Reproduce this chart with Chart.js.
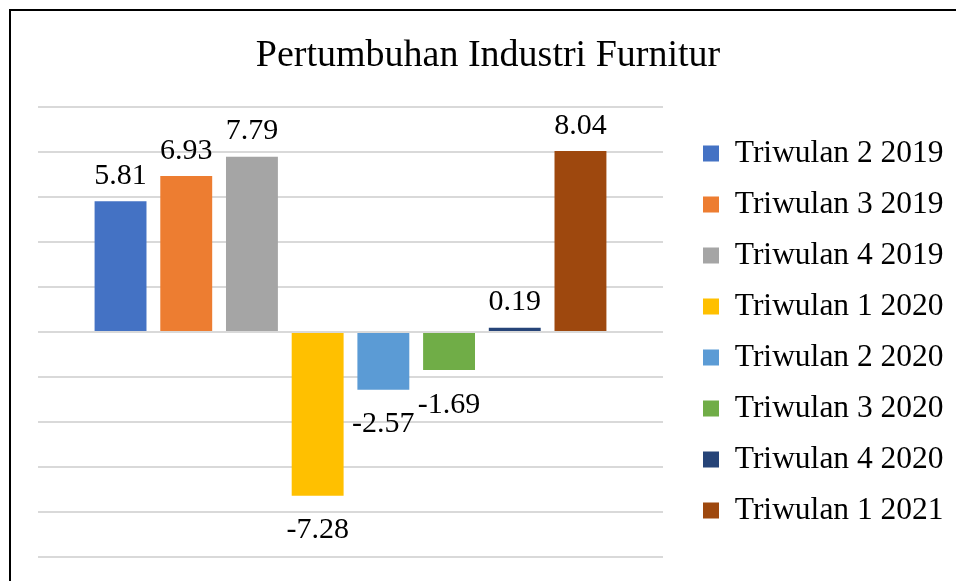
<!DOCTYPE html>
<html>
<head>
<meta charset="utf-8">
<script src="https://cdn.jsdelivr.net/npm/chart.js@4/dist/chart.umd.min.js"></script>
<style>
  html, body { margin: 0; padding: 0; background: #fff; overflow: hidden; width: 956px; height: 581px; }
  #frame { position: absolute; left: 9px; top: 9px; width: 1000px; height: 620px;
           border-left: 2.5px solid #000; border-top: 2.5px solid #000; box-sizing: border-box; }
  #wrap { position: absolute; left: 12px; top: 12px; width: 952px; height: 575px; }
</style>
</head>
<body>
<div id="frame"></div>
<div id="wrap"><canvas id="c" width="952" height="575"></canvas></div>
<script>
// ---- data ----
const chartTitle = 'Pertumbuhan Industri Furnitur';
const quarters = ['Triwulan 2 2019', 'Triwulan 3 2019', 'Triwulan 4 2019', 'Triwulan 1 2020',
                  'Triwulan 2 2020', 'Triwulan 3 2020', 'Triwulan 4 2020', 'Triwulan 1 2021'];
const growth = [5.81, 6.93, 7.79, -7.28, -2.57, -1.69, 0.19, 8.04];
const barColors = ['#4472C4', '#ED7D31', '#A5A5A5', '#FFC000', '#5B9BD5', '#70AD47', '#264478', '#9E480E'];
const yMin = -10, yMax = 10, yStep = 2;

const FONT = "'Liberation Serif', 'Times New Roman', serif";

const datasets = quarters.map((q, i) => ({
  label: q,
  data: [growth[i]],
  backgroundColor: barColors[i],
  borderWidth: 0,
  categoryPercentage: 0.841,
  barPercentage: 0.79
}));

const valueLabels = {
  id: 'valueLabels',
  afterDatasetsDraw(chart) {
    const ctx = chart.ctx;
    ctx.save();
    ctx.font = '30px ' + FONT;
    ctx.fillStyle = '#000';
    ctx.textAlign = 'center';
    ctx.textBaseline = 'alphabetic';
    chart.data.datasets.forEach((ds, i) => {
      const meta = chart.getDatasetMeta(i);
      const el = meta.data[0];
      const v = ds.data[0];
      const txt = v.toFixed(2);
      if (v >= 0) ctx.fillText(txt, el.x, el.y - 17.5);
      else ctx.fillText(txt, el.x, el.y + 42.5);
    });
    ctx.restore();
  }
};

new Chart(document.getElementById('c'), {
  type: 'bar',
  data: { labels: [''], datasets },
  options: {
    responsive: false,
    animation: false,
    devicePixelRatio: 1,
    layout: { padding: { left: 0, right: 0, top: 0, bottom: 30 } },
    plugins: {
      title: {
        display: true,
        text: chartTitle,
        color: '#000',
        font: { family: FONT, size: 38, weight: 'normal', lineHeight: 1.2 },
        padding: { top: 21, bottom: 28.4 }
      },
      legend: {
        display: true,
        position: 'right',
        fullSize: false,
        maxWidth: 600,
        labels: {
          boxWidth: 16,
          boxHeight: 16,
          padding: 19.5,
          color: '#000',
          font: { family: FONT, size: 31.5 }
        }
      },
      tooltip: { enabled: false }
    },
    scales: {
      x: { display: false },
      y: {
        position: 'left',
        min: yMin, max: yMax,
        ticks: { display: false, stepSize: yStep },
        grid: { color: '#d9d9d9', lineWidth: 2, drawTicks: false },
        border: { display: false },
        afterFit: (s) => { s.width = 26; }
      },
      y2: {
        position: 'right',
        ticks: { display: false },
        grid: { display: false, drawTicks: false },
        border: { display: false },
        afterFit: (s) => { s.width = 20.5; }
      },
      y3: {
        position: 'right',
        weight: 2000,
        ticks: { display: false },
        grid: { display: false, drawTicks: false },
        border: { display: false },
        afterFit: (s) => {
          const lw = (s.chart.legend && s.chart.legend.width) ? s.chart.legend.width : 250;
          s.width = Math.max(0, 280.5 - lw);
        }
      }
    }
  },
  plugins: [valueLabels]
});
</script>
</body>
</html>
